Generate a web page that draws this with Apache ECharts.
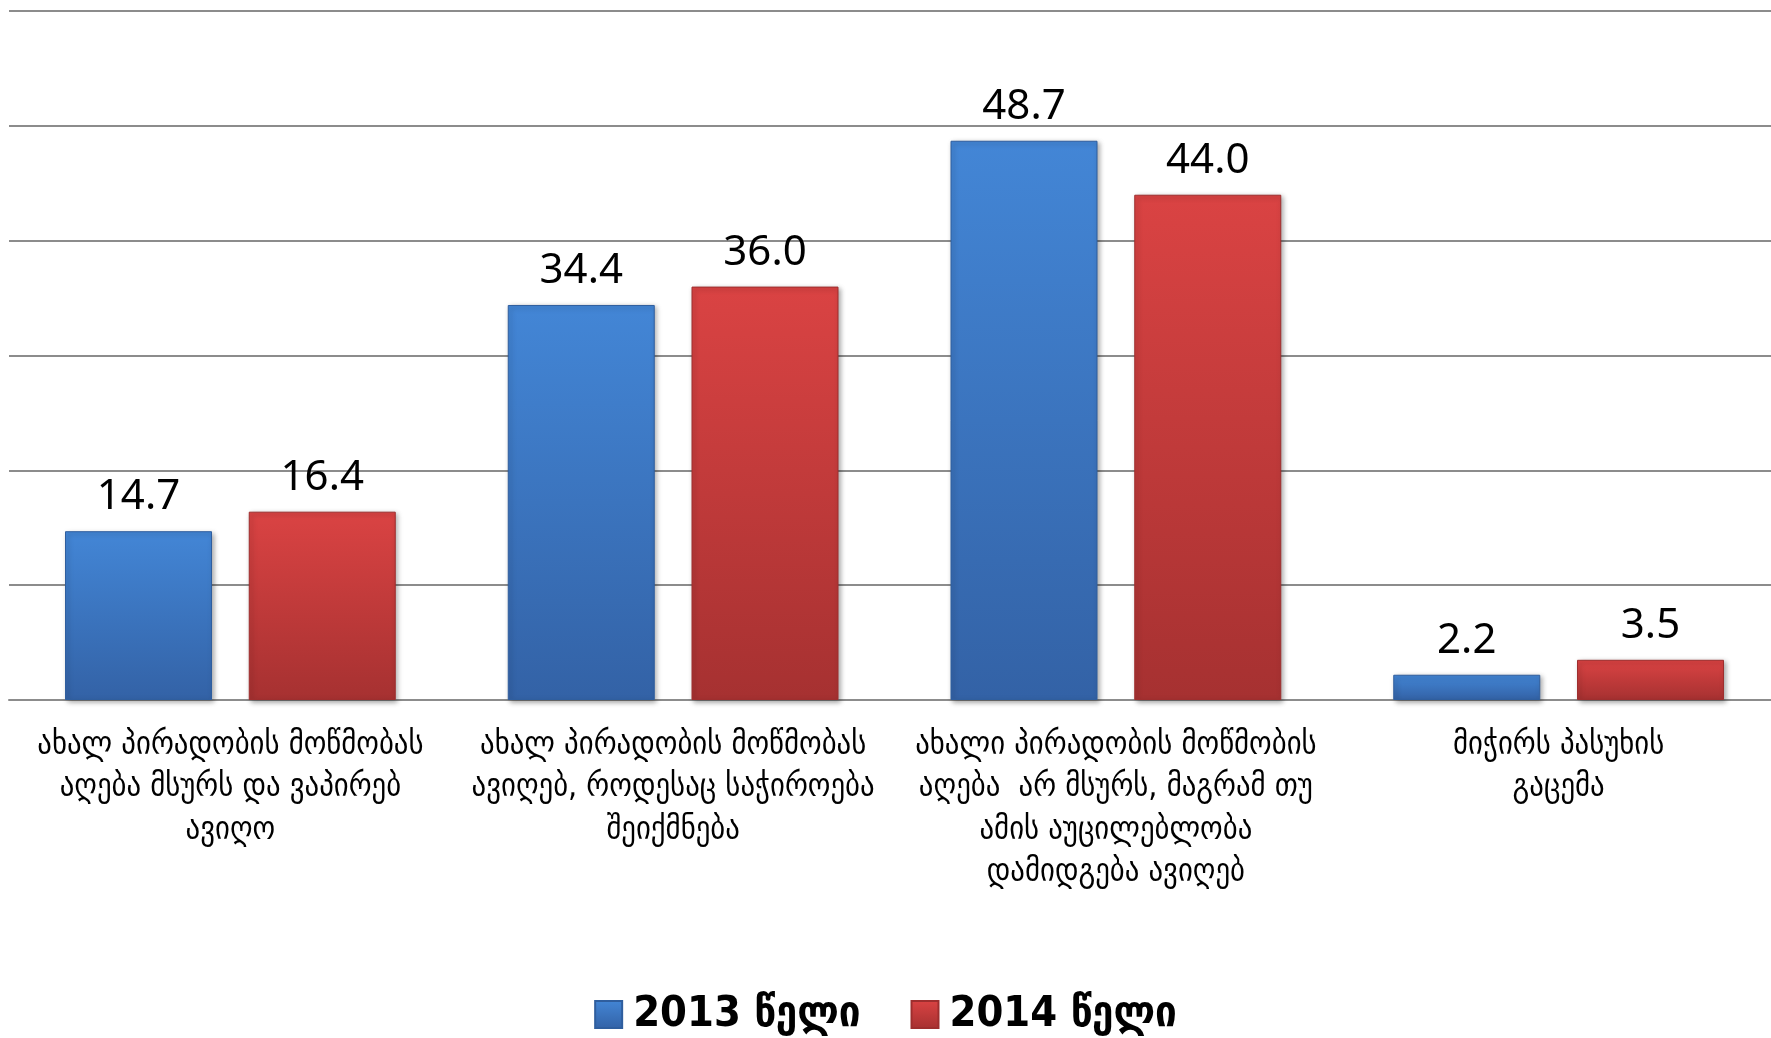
<!DOCTYPE html>
<html>
<head>
<meta charset="utf-8">
<script src="https://cdn.jsdelivr.net/npm/echarts@6/dist/echarts.min.js"></script>
<style>
html,body{margin:0;padding:0;background:#fff;}
#c{width:1771px;height:1038px;}
</style>
</head>
<body>
<div id="c"></div>
<script>
var categories = [
  "ახალ პირადობის მოწმობას\nაღება მსურს და ვაპირებ\nავიღო",
  "ახალ პირადობის მოწმობას\nავიღებ, როდესაც საჭიროება\nშეიქმნება",
  "ახალი პირადობის მოწმობის\nაღება  არ მსურს, მაგრამ თუ\nამის აუცილებლობა\nდამიდგება ავიღებ",
  "მიჭირს პასუხის\nგაცემა"
];
var seriesNames = ["2013 წელი", "2014 წელი"];
var values2013 = [14.7, 34.4, 48.7, 2.2];
var values2014 = [16.4, 36.0, 44.0, 3.5];

function grad(top, bottom) {
  return new echarts.graphic.LinearGradient(0, 0, 0, 1, [
    {offset: 0, color: top},
    {offset: 1, color: bottom}
  ]);
}

var chart = echarts.init(document.getElementById('c'));
var labelCfg = {
  show: true, position: 'top', distance: 13,
  fontFamily: 'Noto Sans', fontSize: 42, color: '#000',
  formatter: function (p) { return p.value.toFixed(1); }
};
chart.setOption({
  animation: false,
  backgroundColor: '#fff',
  grid: {left: 9, top: 11, width: 1771, height: 689, containLabel: false, outerBoundsMode: 'none'},
  xAxis: {
    type: 'category',
    data: categories,
    axisTick: {show: false},
    axisLine: {show: true, lineStyle: {color: '#8c8c8c', width: 2}},
    axisLabel: {
      interval: 0, margin: 24,
      fontFamily: 'DejaVu Sans Condensed', fontSize: 32, color: '#000',
      lineHeight: 42.5
    }
  },
  yAxis: {
    type: 'value', min: 0, max: 60, interval: 10,
    axisLabel: {show: false},
    axisLine: {show: false},
    axisTick: {show: false},
    splitLine: {lineStyle: {color: '#8c8c8c', width: 2}}
  },
  legend: {
    data: seriesNames,
    left: 'center', top: 988,
    itemWidth: 27, itemHeight: 27, itemGap: 50,
    icon: 'rect',
    textStyle: {fontFamily: 'DejaVu Sans Condensed', fontWeight: 'bold', fontSize: 43, color: '#000', padding: [0, 0, 0, 6]}
  },
  series: [
    {
      name: seriesNames[0], type: 'bar', data: values2013,
      barWidth: 147, barGap: '25%',
      itemStyle: {
        color: grad('#4386d6', '#3362a6'),
        borderColor: '#2f5e9e', borderWidth: 1,
        shadowBlur: 5, shadowColor: 'rgba(0,0,0,0.35)', shadowOffsetX: 2, shadowOffsetY: 2
      },
      label: labelCfg
    },
    {
      name: seriesNames[1], type: 'bar', data: values2014,
      barWidth: 147, barGap: '25%',
      itemStyle: {
        color: grad('#da4343', '#a63131'),
        borderColor: '#9e2e2e', borderWidth: 1,
        shadowBlur: 5, shadowColor: 'rgba(0,0,0,0.35)', shadowOffsetX: 2, shadowOffsetY: 2
      },
      label: labelCfg
    }
  ]
});
</script>
</body>
</html>
